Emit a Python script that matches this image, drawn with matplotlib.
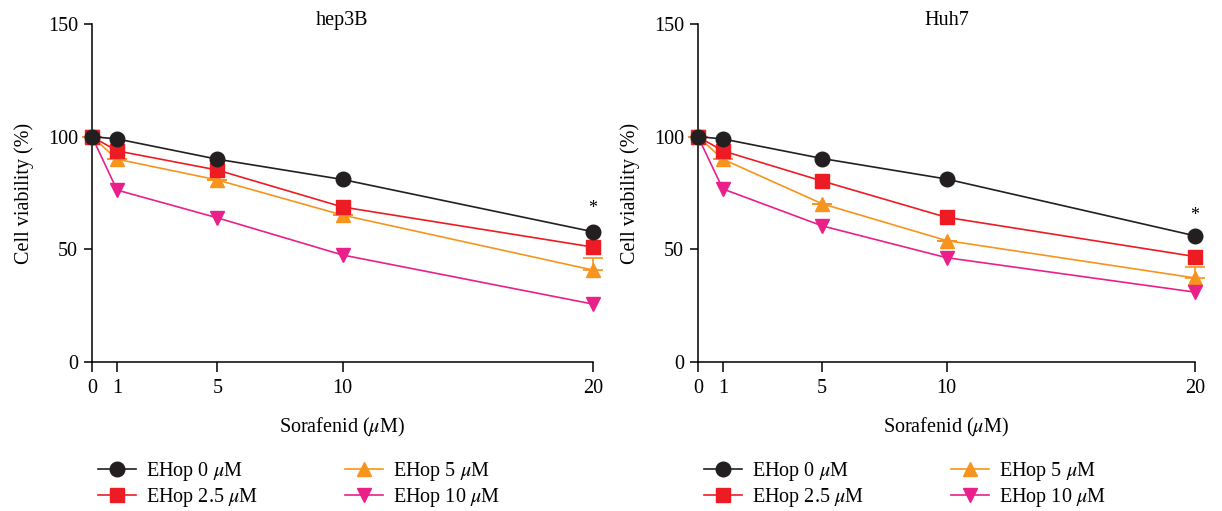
import matplotlib
matplotlib.use('Agg')
import matplotlib.pyplot as plt

plt.rcParams['font.family'] = ['Liberation Serif', 'DejaVu Serif']
plt.rcParams['mathtext.fontset'] = 'stix'
plt.rcParams['font.size'] = 14.5

doses = [0, 1, 5, 10, 20]
series_labels = ['EHop 0 $\\mu$M', 'EHop 2.5 $\\mu$M', 'EHop 5 $\\mu$M', 'EHop 10 $\\mu$M']
panel_titles = ['hep3B', 'Huh7']

hep3b_0 = [100, 99, 90, 81, 57.8]
hep3b_25 = [100, 93.7, 85.2, 68.8, 51]
hep3b_5 = [100, 90, 80.8, 65.2, 40.8]
hep3b_10 = [100, 76.3, 64, 47.5, 25.7]
hep3b_5_err = [0, 0, 0, 0, 5.5]

huh7_0 = [100, 99, 90.3, 81.2, 56]
huh7_25 = [100, 93.7, 80.3, 64.2, 46.8]
huh7_5 = [100, 90, 70.2, 53.9, 37.3]
huh7_10 = [100, 76.8, 60.4, 46.3, 31]
huh7_5_err = [0, 0, 0, 0, 4.8]

star_y = [68, 65]

colors = ['#231f20', '#ed1c24', '#f7941d', '#e9208a']
markers = ['o', 's', '^', 'v']
zorders = [6, 5, 3, 4]

panels = [
    ([hep3b_0, hep3b_25, hep3b_5, hep3b_10], hep3b_5_err),
    ([huh7_0, huh7_25, huh7_5, huh7_10], huh7_5_err),
]

fig = plt.figure(figsize=(12.22, 5.11), dpi=100)
lefts = [92 / 1222, 698 / 1222]
widths = [501 / 1222, 497 / 1222]

for p, (series, orange_err) in enumerate(panels):
    ax = fig.add_axes([lefts[p], 1 - 362 / 511, widths[p], 338 / 511])
    handles = []
    for i, vals in enumerate(series):
        if i == 2:
            ax.errorbar(doses, vals, yerr=[[0] * len(doses), orange_err],
                        fmt='none', ecolor=colors[i], elinewidth=1.2,
                        capsize=7, capthick=1.2, zorder=2, clip_on=False)
        h, = ax.plot(doses, vals, color=colors[i], marker=markers[i],
                     markersize=10.5, linewidth=1.2, zorder=zorders[i],
                     clip_on=False, label=series_labels[i])
        handles.append(h)
    ax.text(20, star_y[p], '*', ha='center', va='center', fontsize=13)

    ax.set_xlim(0, 20)
    ax.set_ylim(0, 150)
    ax.set_xticks(doses)
    ax.set_yticks([0, 50, 100, 150])
    ax.spines['top'].set_visible(False)
    ax.spines['right'].set_visible(False)
    ax.spines['left'].set_linewidth(1.1)
    ax.spines['bottom'].set_linewidth(1.1)
    ax.tick_params(axis='y', direction='out', length=6, width=1.1, pad=4)
    ax.tick_params(axis='x', direction='out', length=7, width=1.1, pad=5)
    ax.set_ylabel('Cell viability (%)', labelpad=10)
    ax.set_xlabel('Sorafenid ($\\mu$M)', labelpad=13)
    ax.text(0.5, 1.01, panel_titles[p], transform=ax.transAxes,
            ha='center', va='center')

    ax.legend(handles=handles, ncol=2, loc='upper left',
              bbox_to_anchor=(-0.005, -0.265), frameon=False,
              handlelength=1.9, columnspacing=4.3, labelspacing=0.15,
              handletextpad=0.5, borderaxespad=0)

fig.savefig('out.png', dpi=100)
